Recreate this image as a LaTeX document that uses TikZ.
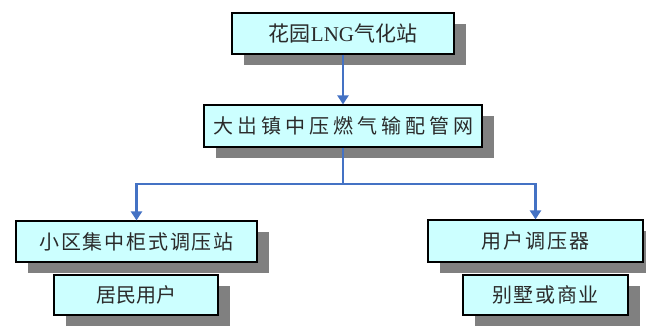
\documentclass[tikz,border=0pt]{standalone}
\usepackage{fontspec}
\setmainfont{Liberation Serif}
\newfontfamily\cjk{Noto Sans CJK SC}
\usetikzlibrary{shadows,arrows.meta}
\definecolor{boxfill}{HTML}{CCFFFF}
\definecolor{shadowgray}{HTML}{808080}
\definecolor{linkblue}{HTML}{4472C4}
\definecolor{txt}{HTML}{2A2A2A}
\tikzset{
  boxnode/.style={draw=black, line width=1.2pt, fill=boxfill, text=txt,
    inner sep=0pt, font=\cjk\fontsize{20}{22}\selectfont,
    drop shadow={shadow xshift=12pt, shadow yshift=-11pt, fill=shadowgray, opacity=1}},
  link/.style={draw=linkblue, line width=2.4pt},
  arr/.style={link, -{Triangle[width=11pt,length=9pt]}}
}
\begin{document}
\begin{tikzpicture}[x=1pt,y=-1pt]
\useasboundingbox (0,0) rectangle (646,325);
\node[boxnode, minimum width=222pt, minimum height=41pt, font=\cjk\fontsize{21}{23}\selectfont] (b1) at (343,33.5)
  {花园{\fontspec{Liberation Serif}LNG}气化站};
\node[boxnode, minimum width=278pt, minimum height=42pt] (b2) at (343,126)
  {\addfontfeatures{LetterSpace=20}大岀镇中压燃气输配管网\hspace{-4pt}};
\node[boxnode, minimum width=241pt, minimum height=41pt] (b3) at (136.5,241.5)
  {\addfontfeatures{LetterSpace=9}小区集中柜式调压站\hspace{-1.8pt}};
\node[boxnode, minimum width=164pt, minimum height=40pt] (b4) at (136,295)
  {居民用户};
\node[boxnode, minimum width=215pt, minimum height=42pt] (b5) at (535.5,241)
  {\addfontfeatures{LetterSpace=10}用户调压器\hspace{-2pt}};
\node[boxnode, minimum width=165pt, minimum height=40pt] (b6) at (545.5,295)
  {\addfontfeatures{LetterSpace=8}别墅或商业\hspace{-1.6pt}};
\coordinate (j) at (343,184);
\draw[arr] (b1.south) -- (b2.north);
\draw[link] (b2.south) -- (j);
\draw[arr] (j) -| (b3.north);
\draw[arr] (j) -| (b5.north);
\end{tikzpicture}
\end{document}
